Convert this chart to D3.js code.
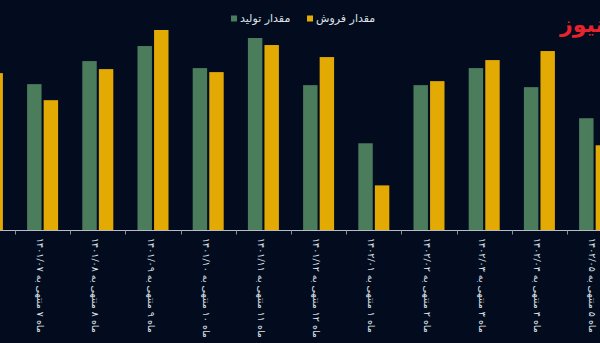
<!DOCTYPE html>
<html>
<head>
<meta charset="utf-8">
<script src="https://cdn.jsdelivr.net/npm/d3@7"></script>
<style>
  html, body { margin: 0; padding: 0; background: #020c1e; overflow: hidden; }
  svg { display: block; }
</style>
</head>
<body>
<svg id="chart" width="600" height="343"></svg>
<script>
// Monthly production vs. sales (months 6/1401 through 5/1402)
const categories = [
  "ماه ۶ منتهی به ۱۴۰۱/۰۶",
  "ماه ۷ منتهی به ۱۴۰۱/۰۷",
  "ماه ۸ منتهی به ۱۴۰۱/۰۸",
  "ماه ۹ منتهی به ۱۴۰۱/۰۹",
  "ماه ۱۰ منتهی به ۱۴۰۱/۱۰",
  "ماه ۱۱ منتهی به ۱۴۰۱/۱۱",
  "ماه ۱۲ منتهی به ۱۴۰۱/۱۲",
  "ماه ۱ منتهی به ۱۴۰۲/۰۱",
  "ماه ۲ منتهی به ۱۴۰۲/۰۲",
  "ماه ۳ منتهی به ۱۴۰۲/۰۳",
  "ماه ۴ منتهی به ۱۴۰۲/۰۴",
  "ماه ۵ منتهی به ۱۴۰۲/۰۵"
];
const production = [148, 146, 169, 184, 162, 192, 145, 87, 145, 162, 143, 112];
const sales      = [157, 130, 161, 200, 158, 185, 173, 45, 149, 170, 179, 85];
const seriesNames = ["مقدار تولید", "مقدار فروش"];
const seriesColors = ["#4b7d5c", "#e3aa04"];
const brandText = "اقتصادنیوز";

const svg = d3.select("#chart");
const W = 600, H = 343;
const axisY = 230.5;
const step = 55.2;
const x0 = 15 - step;

const x = d3.scaleBand()
  .domain(categories)
  .range([x0, x0 + step * categories.length])
  .paddingInner(0).paddingOuter(0);

const groupW = 31;
const x1 = d3.scaleBand()
  .domain(seriesNames)
  .range([(step - groupW) / 2, (step + groupW) / 2])
  .paddingInner(2 / 15.5);

const y = d3.scaleLinear().domain([0, 200]).range([axisY, 30]);

const rows = categories.map((c, i) => ({ cat: c, vals: [production[i], sales[i]] }));

// bars
const groups = svg.append("g").selectAll("g")
  .data(rows).join("g")
  .attr("transform", d => `translate(${x(d.cat)},0)`);

groups.selectAll("rect")
  .data(d => d.vals.map((v, k) => ({ k, v })))
  .join("rect")
  .attr("x", d => x1(seriesNames[d.k]))
  .attr("width", x1.bandwidth())
  .attr("y", d => y(d.v))
  .attr("height", d => axisY - y(d.v))
  .attr("fill", d => seriesColors[d.k]);

// axis baseline and boundary ticks
svg.append("line")
  .attr("x1", 0).attr("x2", W)
  .attr("y1", axisY).attr("y2", axisY)
  .attr("stroke", "#b8bcc6").attr("stroke-width", 1);

const bounds = d3.range(categories.length + 1).map(i => x0 + i * step);
svg.append("g").selectAll("line")
  .data(bounds).join("line")
  .attr("x1", d => Math.round(d) + 0.5).attr("x2", d => Math.round(d) + 0.5)
  .attr("y1", axisY).attr("y2", axisY + 4)
  .attr("stroke", "#8a8f9c");

// rotated category labels, sized so the longest one fits under the axis
const labelFont = "DejaVu Sans, sans-serif";
const labels = svg.append("g").selectAll("text")
  .data(categories).join("text")
  .attr("transform", d => `translate(${x(d) + x.bandwidth() / 2 - 2},238) rotate(90)`)
  .attr("direction", "rtl")
  .attr("text-anchor", "end")
  .attr("dy", "0.35em")
  .attr("fill", "#dfe2e8")
  .attr("font-family", labelFont)
  .attr("font-size", 10)
  .text(d => d);

const ref = labels.nodes()[1].getComputedTextLength();
const fs = Math.min(10, 10 * 95 / ref);
labels.attr("font-size", fs);

// legend
const legendItems = [
  { name: seriesNames[0], color: seriesColors[0], bx: 231, tx: 240 },
  { name: seriesNames[1], color: seriesColors[1], bx: 307, tx: 316 }
];
const lg = svg.append("g");
legendItems.forEach(it => {
  lg.append("rect").attr("x", it.bx).attr("y", 15.5).attr("width", 6).attr("height", 6)
    .attr("fill", it.color);
  lg.append("text")
    .attr("x", it.tx).attr("y", 18.5)
    .attr("dy", "0.35em")
    .attr("direction", "rtl")
    .attr("text-anchor", "end")
    .attr("fill", "#dfe2e8")
    .attr("font-family", "DejaVu Sans, sans-serif")
    .attr("font-size", 11)
    .text(it.name);
});

// brand mark
svg.append("text")
  .attr("x", 560).attr("y", 32)
  .attr("direction", "rtl")
  .attr("text-anchor", "end")
  .attr("fill", "#e8232d")
  .attr("font-family", "DejaVu Sans, sans-serif")
  .attr("font-weight", "bold")
  .attr("font-size", 22)
  .text(brandText);
</script>
</body>
</html>
